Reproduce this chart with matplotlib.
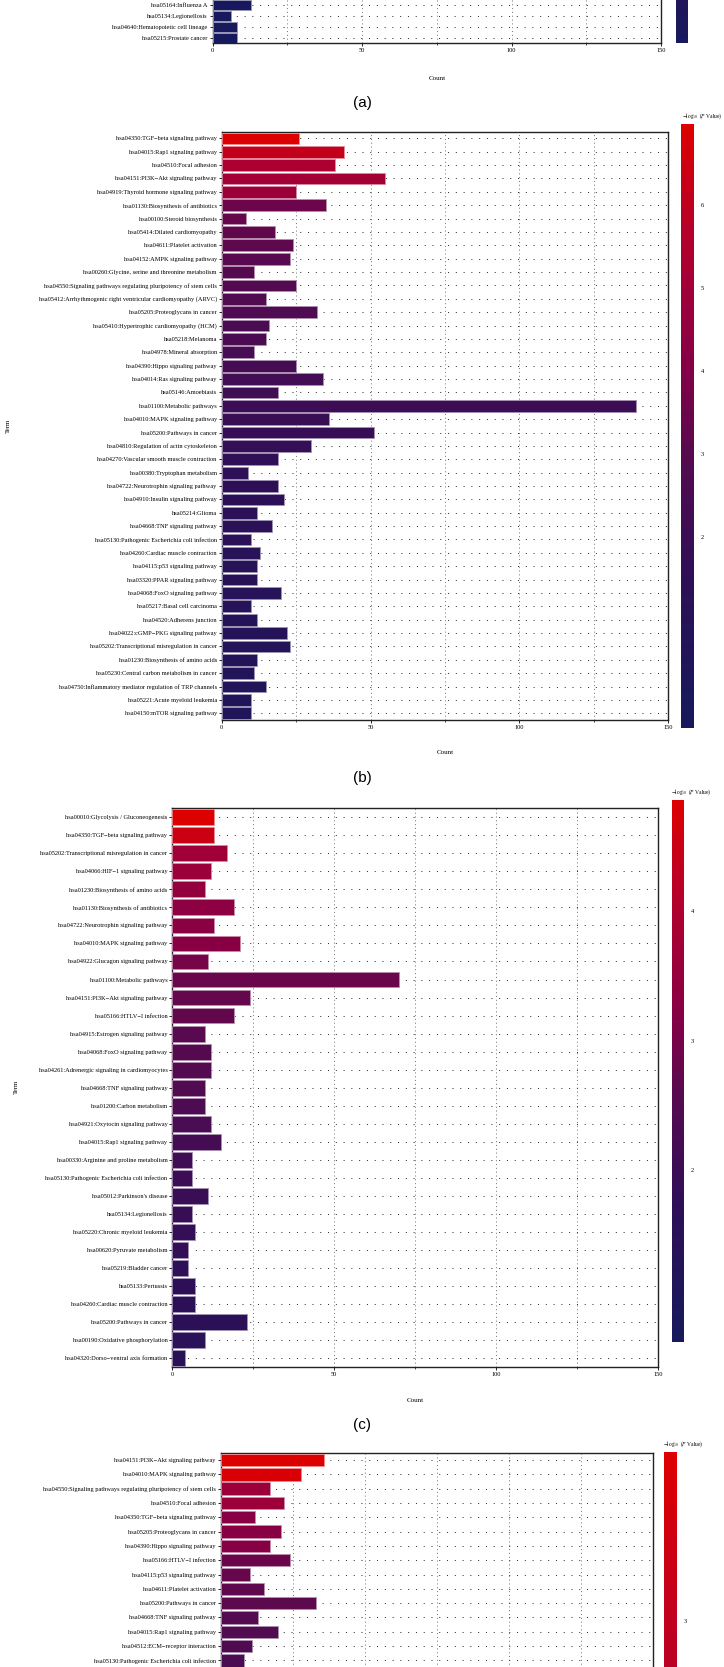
import numpy as np
import matplotlib
matplotlib.use('Agg')
import matplotlib.pyplot as plt
from matplotlib.colors import LinearSegmentedColormap, Normalize, to_rgb
from matplotlib.cm import ScalarMappable

plt.rcParams['font.family'] = 'Liberation Serif'
plt.rcParams['mathtext.fontset'] = 'stix'

W, H = 724, 1667

# panel (a) - only the bottom rows are visible
terms_a = ["hsa05164:Influenza A", "hsa05134:Legionellosis",
           "hsa04640:Hematopoietic cell lineage", "hsa05215:Prostate cancer"]
count_a = [13, 6, 8, 8]
logp_a = [1.40, 1.36, 1.34, 1.32]

# panel (b)
terms_b = ["hsa04350:TGF\u2212beta signaling pathway", "hsa04015:Rap1 signaling pathway",
           "hsa04510:Focal adhesion", "hsa04151:PI3K\u2212Akt signaling pathway",
           "hsa04919:Thyroid hormone signaling pathway", "hsa01130:Biosynthesis of antibiotics",
           "hsa00100:Steroid biosynthesis", "hsa05414:Dilated cardiomyopathy",
           "hsa04611:Platelet activation", "hsa04152:AMPK signaling pathway",
           "hsa00260:Glycine, serine and threonine metabolism",
           "hsa04550:Signaling pathways regulating pluripotency of stem cells",
           "hsa05412:Arrhythmogenic right ventricular cardiomyopathy (ARVC)",
           "hsa05205:Proteoglycans in cancer", "hsa05410:Hypertrophic cardiomyopathy (HCM)",
           "hsa05218:Melanoma", "hsa04978:Mineral absorption", "hsa04390:Hippo signaling pathway",
           "hsa04014:Ras signaling pathway", "hsa05146:Amoebiasis", "hsa01100:Metabolic pathways",
           "hsa04010:MAPK signaling pathway", "hsa05200:Pathways in cancer",
           "hsa04810:Regulation of actin cytoskeleton", "hsa04270:Vascular smooth muscle contraction",
           "hsa00380:Tryptophan metabolism", "hsa04722:Neurotrophin signaling pathway",
           "hsa04910:Insulin signaling pathway", "hsa05214:Glioma", "hsa04668:TNF signaling pathway",
           "hsa05130:Pathogenic Escherichia coli infection", "hsa04260:Cardiac muscle contraction",
           "hsa04115:p53 signaling pathway", "hsa03320:PPAR signaling pathway",
           "hsa04068:FoxO signaling pathway", "hsa05217:Basal cell carcinoma",
           "hsa04520:Adherens junction", "hsa04022:cGMP\u2212PKG signaling pathway",
           "hsa05202:Transcriptional misregulation in cancer", "hsa01230:Biosynthesis of amino acids",
           "hsa05230:Central carbon metabolism in cancer",
           "hsa04750:Inflammatory mediator regulation of TRP channels",
           "hsa05221:Acute myeloid leukemia", "hsa04150:mTOR signaling pathway"]
count_b = [26, 41, 38, 55, 25, 35, 8, 18, 24, 23, 11, 25, 15, 32, 16, 15, 11, 25, 34, 19,
           139, 36, 51, 30, 19, 9, 19, 21, 12, 17, 10, 13, 12, 12, 20, 10, 12, 22, 23, 12,
           11, 15, 10, 10]
logp_b = [6.98, 6.1, 5.4, 5.1, 4.9, 3.5, 3.35, 3.25, 3.15, 3.05, 2.95, 2.9, 2.8, 2.7, 2.6,
          2.55, 2.45, 2.35, 2.25, 2.15, 2.05, 1.95, 1.85, 1.75, 1.65, 1.55, 1.45, 1.4, 1.3,
          1.25, 1.2, 1.1, 1.05, 1.0, 0.95, 0.9, 0.85, 0.8, 0.75, 0.7, 0.65, 0.6, 0.55, 0.5]

# panel (c)
terms_c = ["hsa00010:Glycolysis / Gluconeogenesis", "hsa04350:TGF\u2212beta signaling pathway",
           "hsa05202:Transcriptional misregulation in cancer", "hsa04066:HIF\u22121 signaling pathway",
           "hsa01230:Biosynthesis of amino acids", "hsa01130:Biosynthesis of antibiotics",
           "hsa04722:Neurotrophin signaling pathway", "hsa04010:MAPK signaling pathway",
           "hsa04922:Glucagon signaling pathway", "hsa01100:Metabolic pathways",
           "hsa04151:PI3K\u2212Akt signaling pathway", "hsa05166:HTLV\u2212I infection",
           "hsa04915:Estrogen signaling pathway", "hsa04068:FoxO signaling pathway",
           "hsa04261:Adrenergic signaling in cardiomyocytes", "hsa04668:TNF signaling pathway",
           "hsa01200:Carbon metabolism", "hsa04921:Oxytocin signaling pathway",
           "hsa04015:Rap1 signaling pathway", "hsa00330:Arginine and proline metabolism",
           "hsa05130:Pathogenic Escherichia coli infection", "hsa05012:Parkinson's disease",
           "hsa05134:Legionellosis", "hsa05220:Chronic myeloid leukemia",
           "hsa00620:Pyruvate metabolism", "hsa05219:Bladder cancer", "hsa05133:Pertussis",
           "hsa04260:Cardiac muscle contraction", "hsa05200:Pathways in cancer",
           "hsa00190:Oxidative phosphorylation", "hsa04320:Dorso\u2212ventral axis formation"]
count_c = [13, 13, 17, 12, 10, 19, 13, 21, 11, 70, 24, 19, 10, 12, 12, 10, 10, 12, 15, 6,
           6, 11, 6, 7, 5, 5, 7, 7, 23, 10, 4]
logp_c = [4.86, 4.5, 3.7, 3.6, 3.45, 3.35, 3.3, 3.25, 3.0, 2.8, 2.75, 2.7, 2.6, 2.55, 2.5,
          2.45, 2.35, 2.3, 2.2, 2.1, 2.0, 1.95, 1.9, 1.85, 1.8, 1.75, 1.7, 1.65, 1.6, 1.55, 1.5]

# panel (d) - only the top rows are visible
terms_d = ["hsa04151:PI3K\u2212Akt signaling pathway", "hsa04010:MAPK signaling pathway",
           "hsa04550:Signaling pathways regulating pluripotency of stem cells",
           "hsa04510:Focal adhesion", "hsa04350:TGF\u2212beta signaling pathway",
           "hsa05205:Proteoglycans in cancer", "hsa04390:Hippo signaling pathway",
           "hsa05166:HTLV\u2212I infection", "hsa04115:p53 signaling pathway",
           "hsa04611:Platelet activation", "hsa05200:Pathways in cancer",
           "hsa04668:TNF signaling pathway", "hsa04015:Rap1 signaling pathway",
           "hsa04512:ECM\u2212receptor interaction", "hsa05130:Pathogenic Escherichia coli infection"]
count_d = [36, 28, 17, 22, 12, 21, 17, 24, 10, 15, 33, 13, 20, 11, 8]
logp_d = [3.25, 3.2, 2.67, 2.67, 2.5, 2.5, 2.47, 2.31, 2.28, 2.24, 2.22, 2.16, 2.12, 2.1, 2.06]

cmap = LinearSegmentedColormap.from_list('pv', [(0, '#161a5c'), (0.25, '#2e0f57'),
                                                (0.45, '#560a50'), (0.6, '#850045'),
                                                (0.8, '#b0002f'), (1, '#dd0000')])

fig = plt.figure(figsize=(W / 100, H / 100), dpi=100)


def box(l, t, r, b):
    return fig.add_axes([l / W, 1 - b / H, (r - l) / W, (b - t) / H])


def ftext(x, y, s, **kw):
    fig.text(x / W, 1 - y / H, s, **kw)


def lighten(c, f=0.55):
    c = np.array(to_rgb(c[:3]))
    return tuple(c + (1 - c) * f)


def panel(terms, counts, logp, l, t, r, b, ylim, norm, xlabels=True):
    ax = box(l, t, r, b)
    y = np.arange(len(terms))
    cols = cmap(norm(np.array(logp)))
    ax.barh(y, counts, height=0.88, color=cols, edgecolor=[lighten(c) for c in cols],
            linewidth=0.6, zorder=3)
    ax.set_xlim(0, 150)
    ax.set_ylim(*ylim)
    for yy in range(int(np.ceil(min(ylim))), int(np.floor(max(ylim))) + 1):
        ax.axhline(yy, color='#222222', lw=0.7, ls=(0, (1, 7)), zorder=1)
    for xx in [25, 50, 75, 100, 125]:
        ax.axvline(xx, color='#444444', lw=0.5, ls=(0, (1.5, 4)), zorder=1)
    ax.set_yticks(y)
    ax.set_yticklabels(terms, fontsize=4.6)
    ax.set_xticks([0, 50, 100, 150])
    ax.set_xticklabels(['0', '50', '100', '150'], fontsize=4.6)
    ax.set_xticks([25, 75, 125], minor=True)
    ax.tick_params(length=2, width=0.6, pad=1.5, labelbottom=xlabels)
    ax.tick_params(which='minor', length=1.5, width=0.5)
    for s in ax.spines.values():
        s.set_linewidth(1.0)
        s.set_color('#222222')
    return ax


def cbar(l, t, r, b, norm, ticks):
    cax = box(l, t, r, b)
    cb = fig.colorbar(ScalarMappable(norm=norm, cmap=cmap), cax=cax)
    cb.outline.set_visible(False)
    cb.set_ticks(ticks)
    cax.tick_params(length=0, labelsize=4.6, pad=5)
    return cax


title = r'$-\log_{10}$ ($P$ Value)'

# (a)
norm_a = Normalize(1.3, 5.0)
panel(terms_a, count_a, logp_a, 212.6, -20, 661, 43.5, (3.5, 3.5 - 63.5 / 11), norm_a)
cbar(676, -300, 688, 43, norm_a, [])
ftext(437, 79, 'Count', fontsize=5, ha='center', va='center')
ftext(362, 103, '(a)', fontsize=11, ha='center', va='center', family='Liberation Sans')

# (b)
norm_b = Normalize(-0.3, 6.98)
panel(terms_b, count_b, logp_b, 221.7, 131.7, 668.3, 720, (43.5, -0.5), norm_b)
cbar(681, 124, 694, 728, norm_b, [2, 3, 4, 5, 6])
ftext(682, 121, title, fontsize=4.0, ha='left', va='bottom')
ftext(445, 752, 'Count', fontsize=5, ha='center', va='center')
ftext(8, 426, 'Term', fontsize=5, ha='center', va='center', rotation=90)
ftext(362, 778, '(b)', fontsize=11, ha='center', va='center', family='Liberation Sans')

# (c)
norm_c = Normalize(0.67, 4.86)
panel(terms_c, count_c, logp_c, 172.3, 808.3, 658, 1367, (30.5, -0.5), norm_c)
cbar(672, 800, 684, 1342, norm_c, [2, 3, 4])
ftext(671, 797, title, fontsize=4.0, ha='left', va='bottom')
ftext(415, 1400, 'Count', fontsize=5, ha='center', va='center')
ftext(16, 1087, 'Term', fontsize=5, ha='center', va='center', rotation=90)
ftext(362, 1425, '(c)', fontsize=11, ha='center', va='center', family='Liberation Sans')

# (d)
norm_d = Normalize(1.3, 3.25)
panel(terms_d, count_d, logp_d, 220.7, 1452.7, 652.7, 2767, (-0.5 + (2767 - 1452.7) / 14.33, -0.5),
      norm_d, xlabels=False)
cbar(664, 1452, 677, 2767, norm_d, [3])
ftext(663, 1449, title, fontsize=4.0, ha='left', va='bottom')

fig.savefig('out.png', dpi=100)
